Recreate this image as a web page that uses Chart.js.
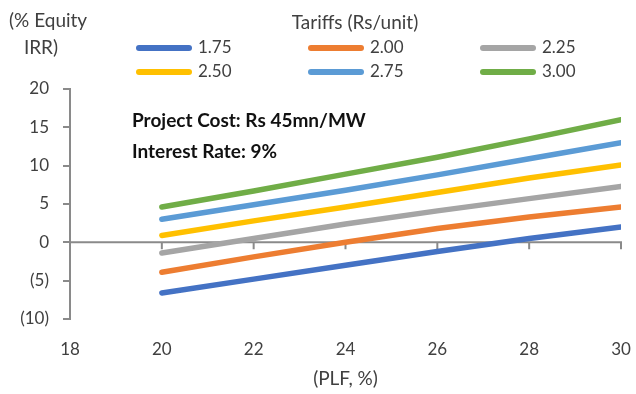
<!DOCTYPE html>
<html>
<head>
<meta charset="utf-8">
<script src="https://cdn.jsdelivr.net/npm/chart.js@4/dist/chart.umd.min.js"></script>
<style>
  html, body { margin: 0; padding: 0; background: #ffffff; }
  canvas { display: block; }
</style>
</head>
<body>
<canvas id="irrChart" width="636" height="394"></canvas>
<script>
// Plant load factor (%) on the x axis
const plf = [20, 22, 24, 26, 28, 30];

// Tariff levels (Rs/unit), one line each
const tariffs = ['1.75', '2.00', '2.25', '2.50', '2.75', '3.00'];

// Equity IRR (%) for each tariff across the PLF points
const irr175 = [-6.6, -4.8, -3.0, -1.2, 0.5, 2.0];
const irr200 = [-3.9, -1.9, 0.0, 1.8, 3.3, 4.6];
const irr225 = [-1.4, 0.5, 2.4, 4.1, 5.7, 7.3];
const irr250 = [0.9, 2.8, 4.6, 6.5, 8.4, 10.1];
const irr275 = [3.0, 4.9, 6.8, 8.8, 10.9, 13.0];
const irr300 = [4.6, 6.7, 8.9, 11.1, 13.5, 16.0];

// Axis ticks
const xTicks = [18, 20, 22, 24, 26, 28, 30];
const yTicks = [-10, -5, 0, 5, 10, 15, 20];

// Texts
const yTitleLines = ['(% Equity', 'IRR)'];
const legendTitle = 'Tariffs (Rs/unit)';
const xTitle = '(PLF, %)';
const noteLines = ['Project Cost: Rs 45mn/MW', 'Interest Rate: 9%'];

const seriesValues = [irr175, irr200, irr225, irr250, irr275, irr300];
const seriesColors = ['#4472C4', '#ED7D31', '#A5A5A5', '#FFC000', '#5B9BD5', '#70AD47'];

const textColor = '#404040';
const axisColor = '#8a8a8a';
const fontFamily = 'Lato, "Open Sans", sans-serif';

const datasets = seriesValues.map((vals, i) => ({
  label: tariffs[i],
  data: plf.map((x, j) => ({ x: x, y: vals[j] })),
  borderColor: seriesColors[i],
  backgroundColor: seriesColors[i],
  borderWidth: 5.5,
  borderCapStyle: 'round',
  borderJoinStyle: 'round',
  pointRadius: 0,
  pointHoverRadius: 0,
  tension: 0,
  fill: false
}));

// Horizontal axis line at IRR = 0 with downward tick marks
const zeroAxis = {
  id: 'zeroAxis',
  beforeDatasetsDraw(chart) {
    const { ctx, chartArea, scales } = chart;
    const y0 = scales.y.getPixelForValue(0);
    ctx.save();
    ctx.strokeStyle = axisColor;
    ctx.lineWidth = 2;
    ctx.beginPath();
    ctx.moveTo(chartArea.left, y0);
    ctx.lineTo(scales.x.getPixelForValue(xTicks[xTicks.length - 1]) + 1, y0);
    xTicks.slice(1).forEach(v => {
      const px = scales.x.getPixelForValue(v);
      ctx.moveTo(px, y0);
      ctx.lineTo(px, y0 + 7);
    });
    ctx.stroke();
    ctx.restore();
  }
};

// Header texts, legend block and note
const decorations = {
  id: 'decorations',
  afterDraw(chart) {
    const { ctx } = chart;
    ctx.save();
    ctx.fillStyle = textColor;
    ctx.textBaseline = 'middle';

    // y-axis caption
    ctx.font = '19px ' + fontFamily;
    ctx.textAlign = 'left';
    ctx.fillText(yTitleLines[0], 9, 21);
    ctx.textAlign = 'center';
    ctx.fillText(yTitleLines[1], 41, 48);

    // legend title
    ctx.textAlign = 'center';
    ctx.fillText(legendTitle, 355, 23);

    // legend entries, three per row
    ctx.font = '17px ' + fontFamily;
    const colX = [136, 308, 480];
    const rowY = [48, 72];
    chart.data.datasets.forEach((ds, i) => {
      const cx = colX[i % 3];
      const cy = rowY[Math.floor(i / 3)];
      ctx.strokeStyle = ds.borderColor;
      ctx.lineWidth = 6;
      ctx.lineCap = 'round';
      ctx.beginPath();
      ctx.moveTo(cx + 3, cy);
      ctx.lineTo(cx + 53, cy);
      ctx.stroke();
      ctx.fillStyle = textColor;
      ctx.textAlign = 'left';
      ctx.fillText(ds.label, cx + 62, cy);
    });

    // note
    ctx.fillStyle = '#111111';
    ctx.font = 'bold 19px ' + fontFamily;
    ctx.textAlign = 'left';
    ctx.fillText(noteLines[0], 132, 121);
    ctx.fillText(noteLines[1], 132, 152);
    ctx.restore();
  }
};

new Chart(document.getElementById('irrChart'), {
  type: 'line',
  data: { datasets: datasets },
  options: {
    responsive: false,
    animation: false,
    devicePixelRatio: 1,
    layout: { padding: { top: 89, right: 15, left: 0, bottom: 0 } },
    plugins: {
      legend: { display: false },
      tooltip: { enabled: false }
    },
    scales: {
      x: {
        type: 'linear',
        min: xTicks[0],
        max: xTicks[xTicks.length - 1],
        afterBuildTicks: s => { s.ticks = xTicks.map(v => ({ value: v })); },
        grid: { display: false, drawTicks: false },
        border: { display: false },
        ticks: {
          padding: 20,
          color: textColor,
          font: { family: fontFamily, size: 17 }
        },
        title: {
          display: true,
          text: xTitle,
          color: textColor,
          font: { family: fontFamily, size: 19 },
          padding: { top: 0, bottom: 4 }
        },
        afterFit: s => { s.height = 75; s.paddingLeft = 0; s.paddingRight = 0; }
      },
      y: {
        min: yTicks[0],
        max: yTicks[yTicks.length - 1],
        afterBuildTicks: s => { s.ticks = yTicks.map(v => ({ value: v })); },
        border: { display: true, color: axisColor, width: 2 },
        grid: {
          display: true,
          drawOnChartArea: false,
          drawTicks: true,
          tickLength: 7,
          color: axisColor,
          lineWidth: 2
        },
        ticks: {
          padding: 14,
          color: textColor,
          font: { family: fontFamily, size: 17 },
          callback: v => (v < 0 ? '(' + (-v) + ')' : String(v))
        },
        afterFit: s => { s.width = 70; s.paddingTop = 0; s.paddingBottom = 0; }
      }
    }
  },
  plugins: [zeroAxis, decorations]
});
</script>
</body>
</html>
